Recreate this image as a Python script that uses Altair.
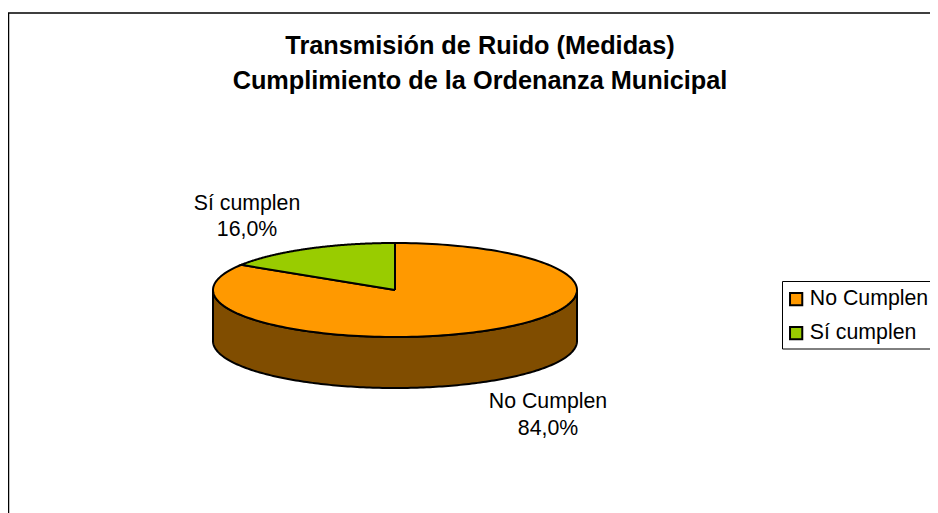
import altair as alt
import numpy as np
import pandas as pd

labels = ["No Cumplen", "Sí cumplen"]
shares = [84.0, 16.0]
colours = ["#FF9900", "#99CC00"]
side_colour = "#804D00"
title_lines = ["Transmisión de Ruido (Medidas)", "Cumplimiento de la Ordenanza Municipal"]

FONT = "Liberation Sans"
W, H = 922, 505
CX, CY, RX, RY, DEPTH = 387, 282, 182, 47, 51


def ellipse(deg, drop=0.0):
    t = np.radians(deg)
    return CX + RX * np.sin(t), CY - RY * np.cos(t) + drop


# top-face slices, built from the shares
rows = []
start = 0.0
for lab, share in zip(labels, shares):
    end = start + share * 3.6
    rows.append({"label": lab, "i": 0, "x": CX, "y": CY})
    for j, d in enumerate(np.linspace(start, end, 181)):
        x, y = ellipse(d)
        rows.append({"label": lab, "i": j + 1, "x": x, "y": y})
    rows.append({"label": lab, "i": 999, "x": CX, "y": CY})
    start = end
top = pd.DataFrame(rows)

# visible rim: front half of the ellipse, top edge then bottom edge
front = np.linspace(90, 270, 181)
xt, yt = ellipse(front)
xb, yb = ellipse(front[::-1], DEPTH)
side = pd.DataFrame({
    "x": np.r_[xt, xb, xt[0]],
    "y": np.r_[yt, yb, yt[0]],
    "i": np.arange(len(xt) + len(xb) + 1),
})

# slice labels
text = pd.DataFrame({
    "x": [540, 540, 239, 239],
    "y": [394, 421, 196, 222],
    "t": [labels[0], f"{shares[0]:.1f}%".replace(".", ","),
          labels[1], f"{shares[1]:.1f}%".replace(".", ",")],
})

xs = alt.Scale(domain=[0, W], range=[0, W], nice=False, zero=False)
ys = alt.Scale(domain=[0, H], range=[0, H], nice=False, zero=False)
X = alt.X("x:Q", scale=xs, axis=None)
Y = alt.Y("y:Q", scale=ys, axis=None)

frame = alt.Chart(pd.DataFrame({"x": [0.5], "x2": [1200], "y": [5], "y2": [900]})).mark_rect(
    fill="white", stroke="black", strokeWidth=1.5
).encode(X, alt.X2("x2:Q"), Y, alt.Y2("y2:Q"))

legend_box = alt.Chart(pd.DataFrame({"x": [774.5], "x2": [1200], "y": [273.5], "y2": [341]})).mark_rect(
    fill="white", stroke="black", strokeWidth=1
).encode(X, alt.X2("x2:Q"), Y, alt.Y2("y2:Q"))

rim = alt.Chart(side).mark_line(
    fill=side_colour, stroke="black", strokeWidth=2, strokeJoin="round"
).encode(X, Y, order=alt.Order("i:Q"))

faces = alt.Chart(top).mark_line(
    stroke="black", strokeWidth=2, strokeJoin="miter"
).encode(
    X, Y,
    fill=alt.Fill(
        "label:N",
        scale=alt.Scale(domain=labels, range=colours),
        legend=alt.Legend(
            title=None, orient="none", legendX=777.5, legendY=280.5,
            symbolType="square", symbolSize=150,
            symbolStrokeColor="black", symbolStrokeWidth=2,
            labelFont=FONT, labelFontSize=21.3, labelColor="black",
            labelOffset=3, rowPadding=12, padding=0, labelLimit=300,
        ),
    ),
    detail="label:N",
    order=alt.Order("i:Q"),
)

slice_text = alt.Chart(text).mark_text(
    font=FONT, fontSize=21.3, color="black", align="center", baseline="middle"
).encode(X, Y, text="t:N")

chart = alt.layer(frame, legend_box, rim, faces, slice_text).properties(
    width=W, height=H,
    padding=0,
    autosize=alt.AutoSizeParams(type="none"),
    background="white",
    title=alt.TitleParams(
        text=title_lines, font=FONT, fontSize=25.3, fontWeight="bold", color="black",
        anchor="middle", dx=11, dy=86, lineHeight=34.5, offset=0,
    ),
).configure_view(stroke=None)

chart.save("out.html", embed_options={"renderer": "svg", "actions": False})
